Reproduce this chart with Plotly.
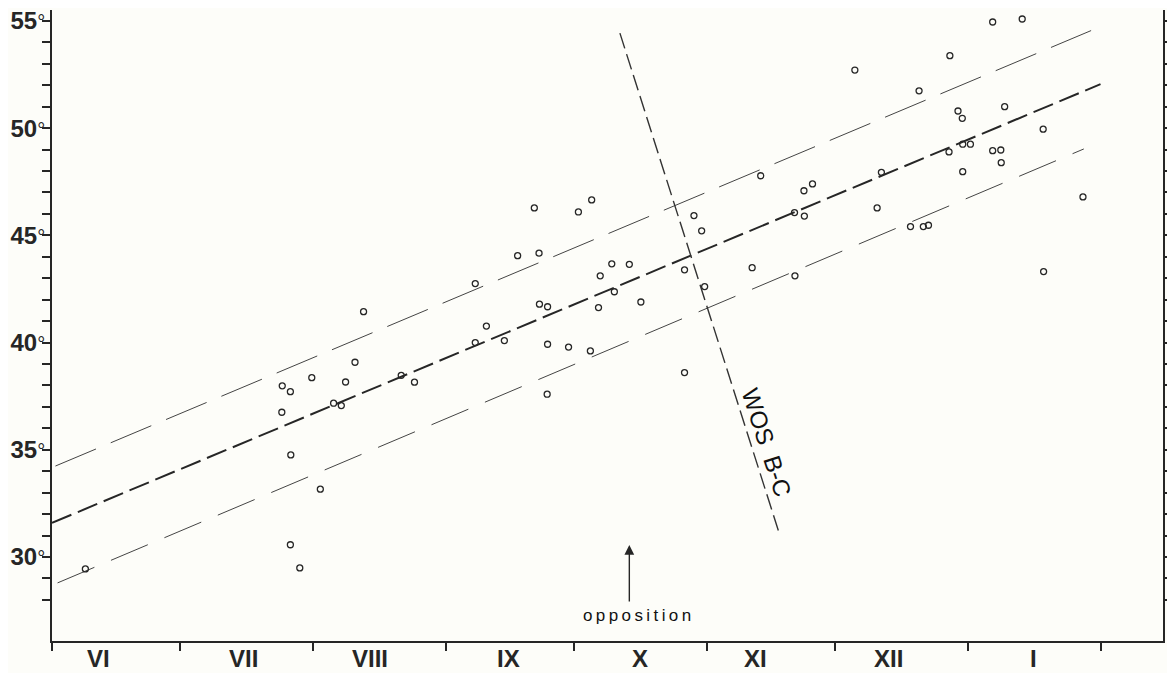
import plotly.graph_objects as go

# ---- data (x = days counted from 1 June, y = degrees) ----
obs_day = [7.8, 53.8, 55.7, 53.7, 55.8, 55.7, 57.9, 60.7, 62.7, 65.8, 67.6, 68.6,
           70.8, 72.8, 81.6, 84.7, 98.9, 98.9, 101.5, 105.7, 108.8, 112.7, 113.8,
           113.9, 115.8, 115.8, 115.7, 120.7, 123.0, 126.1, 125.8, 127.7, 128.1,
           130.8, 131.4, 134.9, 137.6, 147.8, 147.8, 150.0, 151.8, 152.5, 163.6,
           165.6, 173.5, 173.6, 175.7, 175.8, 177.7, 187.6, 192.8, 193.8, 200.6,
           202.6, 203.6, 204.8, 209.6, 209.8, 211.7, 212.7, 212.8, 212.8, 214.6,
           219.8, 219.8, 221.7, 221.8, 222.6, 226.7, 231.6, 231.7, 240.9]
obs_lat = [29.44, 37.98, 37.71, 36.75, 34.76, 30.57, 29.49, 38.36, 33.16, 37.17,
           37.06, 38.16, 39.08, 41.44, 38.47, 38.15, 42.75, 40.00, 40.77, 40.09,
           44.05, 46.28, 44.17, 41.79, 41.67, 39.92, 37.59, 39.79, 46.09, 46.65,
           39.61, 41.63, 43.11, 43.67, 42.37, 43.65, 41.89, 43.39, 38.60, 45.92,
           45.21, 42.61, 43.49, 47.78, 46.06, 43.11, 47.08, 45.90, 47.40, 52.71,
           46.28, 47.94, 45.41, 51.74, 45.41, 45.47, 48.89, 53.38, 50.80, 50.46,
           49.25, 47.97, 49.25, 54.95, 48.95, 48.98, 48.39, 51.00, 55.09, 49.95,
           43.31, 46.79]

fit_day = [0.0, 245.0]
fit_lat = [31.59, 52.05]
upper_day = [0.8, 242.8]
upper_lat = [34.24, 54.55]
lower_day = [1.3, 241.1]
lower_lat = [28.79, 49.03]
wos_day = [132.7, 169.8]
wos_lat = [54.43, 31.18]

month_names = ["VI", "VII", "VIII", "IX", "X", "XI", "XII", "I"]
month_label_day = [10.8, 44.7, 74.2, 106.6, 137.4, 164.4, 195.4, 229.4]
month_start_day = [0, 30, 61, 92, 122, 153, 183, 214, 245]

lat_ticks = list(range(28, 56))
lat_labels = [f"<b>{v}</b><span style='font-size:20px'>°</span>" if v % 5 == 0 else "" for v in lat_ticks]

opposition_day = 134.9
opposition_text = "\u2009".join("opposition")
wos_label_day, wos_label_lat = 166.9, 35.32

INK = "#262626"
fig = go.Figure()

fig.add_trace(go.Scatter(x=upper_day, y=upper_lat, mode="lines",
                         line=dict(color="#444", width=1, dash="44px,16px"),
                         hoverinfo="skip", showlegend=False))
fig.add_trace(go.Scatter(x=lower_day, y=lower_lat, mode="lines",
                         line=dict(color="#444", width=1, dash="40px,18px"),
                         hoverinfo="skip", showlegend=False))
fig.add_trace(go.Scatter(x=fit_day, y=fit_lat, mode="lines",
                         line=dict(color=INK, width=2, dash="21px,7px"),
                         hoverinfo="skip", showlegend=False))
fig.add_trace(go.Scatter(x=wos_day, y=wos_lat, mode="lines",
                         line=dict(color="#333", width=1.4, dash="16px,6px"),
                         hoverinfo="skip", showlegend=False))
fig.add_trace(go.Scatter(x=obs_day, y=obs_lat, mode="markers",
                         marker=dict(symbol="circle-open", size=6, color=INK,
                                     line=dict(width=1.3, color=INK)),
                         showlegend=False))

for name, d in zip(month_names, month_label_day):
    fig.add_annotation(x=d, y=-0.0285, xref="x", yref="paper", text=f"<b>{name}</b>",
                       showarrow=False, xanchor="center", yanchor="middle",
                       font=dict(family="Liberation Sans, Arial", size=24, color=INK))

fig.add_annotation(x=opposition_day + 1.9, y=0.041, xref="x", yref="paper",
                   text=opposition_text, showarrow=False, xanchor="center", yanchor="middle",
                   font=dict(family="Liberation Sans, Arial", size=17, color="#111"))
fig.add_annotation(x=opposition_day, y=30.56, ax=opposition_day, ay=27.85,
                   xref="x", yref="y", axref="x", ayref="y", text="",
                   showarrow=True, arrowhead=2, arrowsize=1.4, arrowwidth=1.4,
                   arrowcolor=INK, standoff=0, startstandoff=0)

fig.add_annotation(x=wos_label_day, y=wos_label_lat, xref="x", yref="y", text="WOS  B-C",
                   showarrow=False, textangle=72, xanchor="center", yanchor="middle",
                   font=dict(family="Liberation Sans, Arial", size=24, color="#111"))

fig.update_layout(
    width=1175, height=673,
    margin=dict(l=44, r=20, t=2, b=40),
    paper_bgcolor="#fdfdf9", plot_bgcolor="#fdfdf9",
    showlegend=False,
    xaxis=dict(range=[0, 259.6], showgrid=False, zeroline=False, automargin=False,
               showline=True, linecolor=INK, linewidth=2,
               ticks="outside", ticklen=8, tickwidth=1.5, tickcolor=INK,
               tickmode="array", tickvals=month_start_day, showticklabels=False),
    yaxis=dict(range=[26.08, 55.51], showgrid=False, zeroline=False, automargin=False,
               showline=True, linecolor=INK, linewidth=2, mirror="ticks",
               ticks="outside", ticklen=8, tickwidth=1.5, tickcolor=INK,
               tickmode="array", tickvals=lat_ticks, ticktext=lat_labels,
               ticklabelstandoff=-8, ticklabeloverflow="allow",
               tickfont=dict(family="Liberation Sans, Arial", size=24, color=INK)),
)

fig.write_html("out.html")
